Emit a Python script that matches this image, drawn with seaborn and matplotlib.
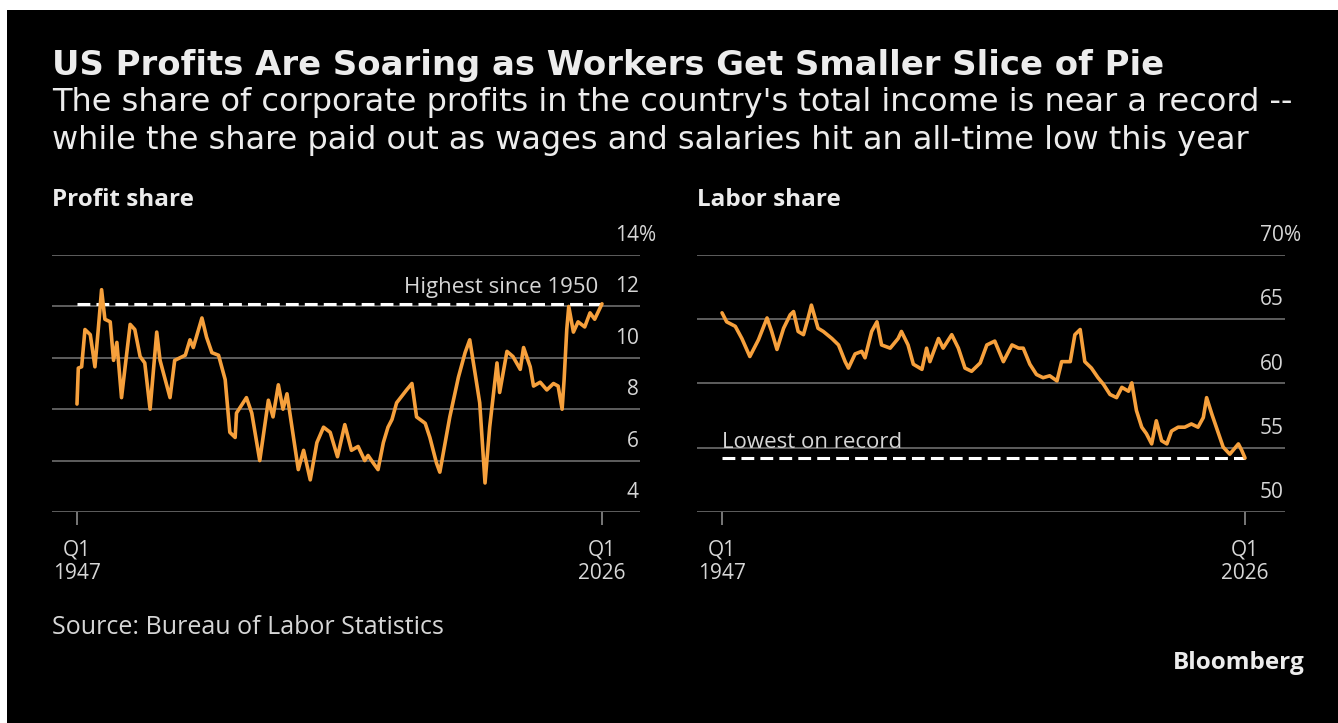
import pandas as pd
import matplotlib.pyplot as plt
from matplotlib.patches import Rectangle
import seaborn as sns

# ---------------------------------
# Data (decimal year, share in %)
# ---------------------------------

profit_year = [1947.0, 1947.2, 1947.7, 1948.2, 1949.0, 1949.7, 1950.2, 1950.7, 1951.2, 1952.0,
               1952.5, 1953.0, 1953.7, 1955.0, 1955.7, 1956.5, 1957.2, 1958.0, 1959.0, 1959.5,
               1961.0, 1961.7, 1963.3, 1964.0, 1964.5, 1965.8, 1966.5, 1967.3, 1968.3, 1969.3,
               1970.0, 1970.8, 1971.0, 1972.5, 1973.3, 1974.5, 1975.8, 1976.5, 1977.3, 1978.0,
               1978.6, 1980.3, 1981.1, 1982.1, 1983.1, 1984.1, 1985.1, 1986.2, 1987.3, 1988.3,
               1989.3, 1990.3, 1990.8, 1991.6, 1992.3, 1993.1, 1993.8, 1994.4, 1995.1, 1996.6,
               1997.4, 1998.1, 1999.4, 2000.1, 2001.1, 2001.6, 2003.1, 2004.4, 2005.4, 2006.1,
               2006.9, 2007.6, 2008.4, 2009.1, 2010.2, 2010.6, 2011.7, 2012.6, 2013.7, 2014.2,
               2015.2, 2015.7, 2016.7, 2017.7, 2018.7, 2019.4, 2020.0, 2020.3, 2020.7, 2021.0,
               2021.7, 2022.4, 2023.4, 2024.2, 2024.9, 2026.0]

profit_share = [8.2, 9.6, 9.65, 11.1, 10.9, 9.65, 11.1, 12.65, 11.5, 11.4,
                9.9, 10.6, 8.45, 11.3, 11.1, 10.05, 9.8, 8.0, 11.0, 9.9,
                8.45, 9.9, 10.1, 10.7, 10.4, 11.55, 10.8, 10.2, 10.1, 9.15,
                7.1, 6.9, 7.85, 8.45, 7.85, 6.0, 8.35, 7.7, 8.95, 8.0,
                8.6, 5.65, 6.4, 5.25, 6.7, 7.3, 7.1, 6.15, 7.4, 6.4,
                6.55, 6.0, 6.2, 5.9, 5.65, 6.7, 7.3, 7.6, 8.25, 8.75,
                9.0, 7.7, 7.45, 6.9, 5.9, 5.55, 7.7, 9.25, 10.2, 10.7,
                9.4, 8.25, 5.13, 7.3, 9.8, 8.65, 10.25, 10.05, 9.55, 10.4,
                9.65, 8.9, 9.05, 8.75, 9.0, 8.9, 8.0, 9.15, 11.1, 12.0,
                11.0, 11.4, 11.2, 11.75, 11.5, 12.1]

labor_year = [1947.0, 1947.7, 1949.0, 1950.0, 1951.2, 1952.5, 1953.8, 1954.5, 1955.3, 1956.3,
              1957.3, 1957.8, 1958.5, 1959.3, 1960.0, 1960.5, 1961.5, 1962.3, 1963.6, 1964.6,
              1965.6, 1966.1, 1967.1, 1968.1, 1968.6, 1969.6, 1970.4, 1971.1, 1972.4, 1973.6,
              1974.1, 1975.1, 1975.9, 1977.2, 1977.9, 1978.4, 1979.7, 1980.4, 1981.7, 1982.7,
              1983.7, 1984.7, 1986.0, 1987.0, 1988.2, 1989.5, 1990.8, 1991.8, 1992.5, 1993.5,
              1994.5, 1995.5, 1996.5, 1997.6, 1998.3, 1999.6, 2000.3, 2001.1, 2001.8, 2002.8,
              2003.8, 2004.6, 2005.6, 2006.6, 2007.4, 2008.4, 2008.9, 2009.6, 2010.4, 2011.1,
              2011.9, 2012.6, 2013.4, 2014.2, 2014.9, 2015.9, 2016.9, 2017.9, 2018.9, 2019.7,
              2020.2, 2021.0, 2021.5, 2022.7, 2023.7, 2025.0, 2025.5, 2026.0]

labor_share = [65.5, 64.8, 64.45, 63.5, 62.1, 63.4, 65.1, 64.05, 62.65, 64.3,
               65.35, 65.6, 64.05, 63.8, 65.1, 66.1, 64.3, 64.05, 63.5, 63.0,
               61.7, 61.2, 62.3, 62.5, 62.0, 64.05, 64.8, 63.0, 62.75, 63.5,
               64.05, 63.0, 61.5, 61.1, 62.75, 61.7, 63.5, 62.75, 63.8, 62.75,
               61.2, 60.95, 61.6, 63.0, 63.3, 61.7, 63.0, 62.75, 62.75, 61.5,
               60.7, 60.45, 60.6, 60.2, 61.7, 61.7, 63.8, 64.2, 61.7, 61.2,
               60.45, 59.95, 59.15, 58.9, 59.7, 59.4, 60.05, 57.9, 56.6, 56.1,
               55.3, 57.1, 55.55, 55.3, 56.3, 56.6, 56.6, 56.85, 56.6, 57.35,
               58.9, 57.6, 56.85, 55.05, 54.5, 55.3, 54.8, 54.2]

profit_ticks = [4, 6, 8, 10, 12, 14]
labor_ticks = [50, 55, 60, 65, 70]
x_ticks = [1947, 2026]
x_tick_labels = ["Q1\n1947", "Q1\n2026"]

profit_record = 12.1
labor_record = 54.2

profit_df = pd.DataFrame({"year": profit_year, "share": profit_share})
labor_df = pd.DataFrame({"year": labor_year, "share": labor_share})

# ---------------------------------
# Style
# ---------------------------------

sns.set_theme(style="dark")
plt.rcParams["font.family"] = ["Open Sans", "DejaVu Sans"]

ORANGE = "#F6A03C"
GRID = "#5e5e5e"
TEXT = "#ececec"
LABEL = "#d6d6d6"

W, H = 1338, 723
fig = plt.figure(figsize=(W / 100, H / 100), dpi=100, facecolor="white")

# black card with a thin white margin at top / left
fig.add_artist(Rectangle((7 / W, 0), 1, (H - 10) / H, transform=fig.transFigure,
                         facecolor="black", edgecolor="none", zorder=-5))

ax1 = fig.add_axes([52 / W, (H - 512) / H, 588 / W, 257 / H])
ax2 = fig.add_axes([697 / W, (H - 512) / H, 588 / W, 257 / H])


def style_panel(ax, df, ticks, xlim, record):
    sns.lineplot(data=df, x="year", y="share", ax=ax, color=ORANGE,
                 linewidth=2.6, zorder=4)
    ax.hlines(record, x_ticks[0], x_ticks[1], colors="white",
              linestyles=(0, (4.2, 2.0)), linewidth=2.2, zorder=3)

    ax.set_facecolor("black")
    ax.set_xlim(*xlim)
    ax.set_ylim(ticks[0], ticks[-1])
    ax.set_yticks(ticks)
    ax.grid(axis="y", color=GRID, linewidth=1.4)
    ax.grid(axis="x", visible=False)
    for s in ax.spines.values():
        s.set_visible(False)

    ax.set_xticks(x_ticks)
    ax.set_xticklabels(x_tick_labels, linespacing=1.12)
    ax.tick_params(axis="x", bottom=True, length=9, width=1.2, color="#8c8c8c",
                   direction="out", pad=11, labelsize=15, labelcolor=LABEL)
    ax.tick_params(axis="y", left=False, right=False,
                   labelleft=False, labelright=False)
    ax.set_xlabel("")
    ax.set_ylabel("")

    # value labels sit above the gridlines, right-aligned, % hangs off the end
    for i, t in enumerate(ticks):
        ax.annotate(str(t), xy=(1, t), xycoords=("axes fraction", "data"),
                    xytext=(-1, 14), textcoords="offset points",
                    ha="right", va="center", fontsize=15, color=LABEL,
                    annotation_clip=False)
        if i == len(ticks) - 1:
            ax.annotate("%", xy=(1, t), xycoords=("axes fraction", "data"),
                        xytext=(-1, 14), textcoords="offset points",
                        ha="left", va="center", fontsize=15, color=LABEL,
                        annotation_clip=False)


style_panel(ax1, profit_df, profit_ticks, (1943.24, 2031.72), profit_record)
style_panel(ax2, labor_df, labor_ticks, (1943.22, 2032.04), labor_record)

ax1.annotate("Highest since 1950", xy=(2025.4, profit_record),
             xytext=(0, 11.5), textcoords="offset points",
             ha="right", va="center", fontsize=16, color=LABEL)
ax2.annotate("Lowest on record", xy=(1947, labor_record),
             xytext=(0, 11.5), textcoords="offset points",
             ha="left", va="center", fontsize=16, color=LABEL)

# ---------------------------------
# Titles and footer
# ---------------------------------

fig.text(52 / W, 1 - 65 / H,
         "US Profits Are Soaring as Workers Get Smaller Slice of Pie",
         ha="left", va="center", fontsize=24.4, fontweight="bold", color=TEXT,
         family="DejaVu Sans")
fig.text(52 / W, 1 - 103 / H,
         "The share of corporate profits in the country's total income is near a record --",
         ha="left", va="center", fontsize=23, color=TEXT, family="DejaVu Sans")
fig.text(52 / W, 1 - 140 / H,
         "while the share paid out as wages and salaries hit an all-time low this year",
         ha="left", va="center", fontsize=23, color=TEXT, family="DejaVu Sans")

fig.text(52 / W, 1 - 200 / H, "Profit share", ha="left", va="center",
         fontsize=17.5, fontweight="bold", color=TEXT)
fig.text(697 / W, 1 - 200 / H, "Labor share", ha="left", va="center",
         fontsize=17.5, fontweight="bold", color=TEXT)

fig.text(52 / W, 1 - 628 / H, "Source: Bureau of Labor Statistics",
         ha="left", va="center", fontsize=18, color=LABEL)
fig.text(1305 / W, 1 - 663 / H, "Bloomberg", ha="right", va="center",
         fontsize=17.5, fontweight="bold", color=TEXT)

fig.savefig("out.png", dpi=100, facecolor=fig.get_facecolor())
